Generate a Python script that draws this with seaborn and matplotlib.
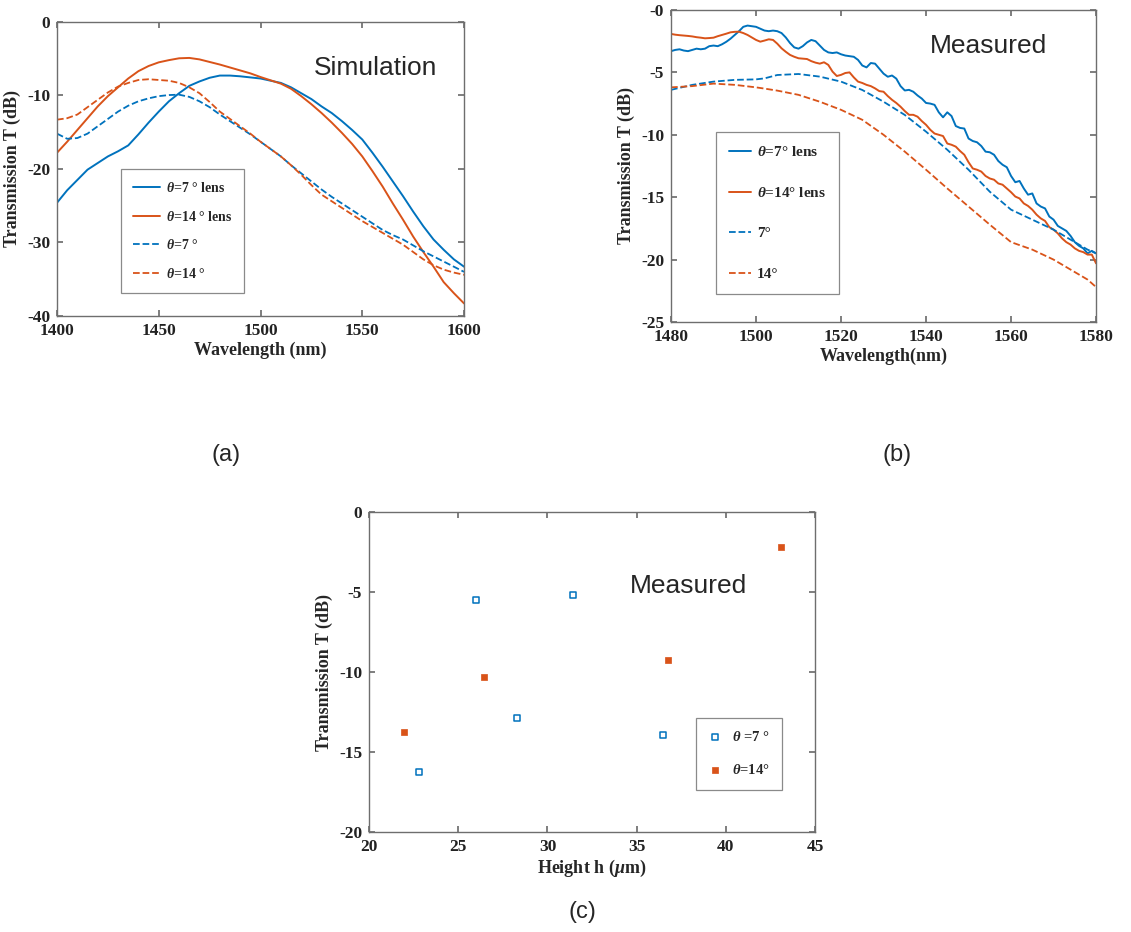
import numpy as np
import pandas as pd
import matplotlib
matplotlib.use("Agg")
import matplotlib.pyplot as plt
import seaborn as sns

# -----------------------------
# DATA
# -----------------------------
# (a) simulation, wavelength in nm, transmission in dB
sim_wl = [1400, 1405, 1410, 1415, 1420, 1425, 1430, 1435, 1440, 1445, 1450,
          1455, 1460, 1465, 1470, 1475, 1480, 1485, 1490, 1495, 1500,
          1505, 1510, 1515, 1520, 1525, 1530, 1535, 1540, 1545, 1550,
          1555, 1560, 1565, 1570, 1575, 1580, 1585, 1590, 1595, 1600]
sim_7_lens = [-24.6, -22.9, -21.5, -20.1, -19.2, -18.3, -17.6, -16.8, -15.3, -13.7, -12.2,
              -10.8, -9.7, -8.7, -8.1, -7.6, -7.3, -7.3, -7.4, -7.55, -7.7,
              -8.0, -8.3, -8.9, -9.7, -10.5, -11.5, -12.4, -13.5, -14.7, -16.0,
              -17.8, -19.7, -21.7, -23.7, -25.8, -27.8, -29.6, -31.0, -32.3, -33.3]
sim_14_lens = [-17.8, -16.3, -14.7, -13.1, -11.5, -10.1, -8.9, -7.7, -6.7, -6.0, -5.5,
               -5.2, -4.95, -4.9, -5.1, -5.45, -5.8, -6.2, -6.6, -7.0, -7.5,
               -7.95, -8.4, -9.1, -10.1, -11.2, -12.4, -13.7, -15.1, -16.6, -18.3,
               -20.3, -22.4, -24.7, -26.9, -29.2, -31.3, -33.3, -35.4, -36.9, -38.3]
sim_7 = [-15.2, -15.9, -15.8, -15.2, -14.2, -13.2, -12.2, -11.4, -10.8, -10.4, -10.1,
         -9.95, -9.9, -10.2, -10.8, -11.6, -12.6, -13.5, -14.4, -15.3, -16.3,
         -17.3, -18.3, -19.5, -20.6, -21.7, -22.8, -23.8, -24.7, -25.6, -26.5,
         -27.4, -28.3, -29.0, -29.6, -30.4, -31.2, -31.9, -32.6, -33.3, -34.0]
sim_14 = [-13.3, -13.1, -12.6, -11.6, -10.6, -9.6, -8.8, -8.3, -7.9, -7.8, -7.9,
          -8.0, -8.3, -8.9, -9.7, -10.9, -12.2, -13.2, -14.2, -15.2, -16.3,
          -17.3, -18.3, -19.5, -20.8, -22.2, -23.5, -24.4, -25.3, -26.2, -27.1,
          -27.9, -28.7, -29.5, -30.3, -31.3, -32.3, -33.1, -33.7, -34.1, -34.4]

# (b) measured spectra
meas_wl = list(range(1480, 1581))
meas_7_lens = [-3.3, -3.2, -3.15, -3.25, -3.3, -3.2, -3.1, -3.15, -3.1, -2.9,
               -2.85, -2.9, -2.75, -2.55, -2.3, -2.0, -1.7, -1.35, -1.25, -1.3,
               -1.35, -1.5, -1.65, -1.7, -1.65, -1.7, -1.85, -2.2, -2.65, -3.0,
               -3.1, -2.9, -2.6, -2.4, -2.5, -2.85, -3.2, -3.4, -3.45, -3.4,
               -3.55, -3.65, -3.7, -3.75, -4.0, -4.45, -4.6, -4.25, -4.3, -4.7,
               -5.1, -5.35, -5.25, -5.5, -6.1, -6.45, -6.4, -6.55, -6.85, -7.1,
               -7.45, -7.5, -7.6, -8.2, -8.6, -8.2, -8.5, -9.3, -9.45, -9.5,
               -10.3, -10.5, -10.6, -10.9, -11.35, -11.4, -11.6, -12.1, -12.4, -12.6,
               -13.3, -13.8, -13.7, -14.3, -14.8, -14.7, -15.5, -15.75, -15.9, -16.55,
               -16.8, -17.3, -17.5, -17.7, -18.1, -18.6, -18.9, -19.1, -19.5, -19.3,
               -19.5]
meas_14_lens = [-1.92, -1.98, -2.02, -2.05, -2.08, -2.12, -2.18, -2.22, -2.27, -2.25,
                -2.22, -2.1, -2.0, -1.9, -1.79, -1.75, -1.74, -1.85, -2.0, -2.2,
                -2.4, -2.54, -2.45, -2.35, -2.4, -2.7, -3.07, -3.35, -3.6, -3.75,
                -3.87, -3.9, -3.93, -4.1, -4.22, -4.3, -4.19, -4.4, -4.94, -5.29,
                -5.2, -5.05, -5.0, -5.4, -5.74, -5.85, -6.0, -6.1, -6.28, -6.5,
                -6.55, -6.9, -7.2, -7.45, -7.75, -8.1, -8.4, -8.4, -8.55, -8.9,
                -9.2, -9.6, -9.9, -10.0, -10.1, -10.7, -10.8, -10.95, -11.3, -11.6,
                -12.2, -12.7, -12.8, -12.95, -13.3, -13.5, -13.6, -13.9, -14.0, -14.3,
                -14.6, -14.95, -15.1, -15.5, -15.7, -16.0, -16.4, -16.7, -16.9, -17.4,
                -17.6, -17.9, -18.3, -18.6, -18.8, -19.1, -19.3, -19.4, -19.6, -19.6,
                -20.3]
meas_wl_dash = [1480, 1485, 1490, 1495, 1500, 1502, 1505, 1510, 1515, 1520, 1525,
                1530, 1535, 1540, 1545, 1550, 1555, 1560, 1565, 1570, 1575, 1578, 1580]
meas_7 = [-6.4, -6.0, -5.74, -5.6, -5.56, -5.48, -5.21, -5.13, -5.34, -5.74, -6.41,
          -7.35, -8.41, -9.75, -11.2, -12.8, -14.56, -16.0, -16.8, -17.6, -18.6, -19.2, -19.5]
meas_14 = [-6.2, -6.1, -5.9, -6.0, -6.2, -6.3, -6.46, -6.8, -7.35, -8.0, -8.8,
           -10.0, -11.35, -12.8, -14.3, -15.75, -17.2, -18.6, -19.2, -20.0, -21.0, -21.6, -22.2]

# (c) transmission vs height
h_7 = [26.0, 31.45, 28.28, 22.82, 36.46]
t_7 = [-5.5, -5.16, -12.87, -16.26, -13.95]
h_14 = [21.94, 26.47, 36.74, 43.1]
t_14 = [-13.72, -10.29, -9.27, -2.18]

# tick labels
ticks_a_y = [0, -10, -20, -30, -40]
ticks_b_y = [0, -5, -10, -15, -20, -25]
labels_b_y = ["-0", "-5", "-10", "-15", "-20", "-25"]
ticks_c_y = [0, -5, -10, -15, -20]

# -----------------------------
# STYLE
# -----------------------------
blue = "#0072BD"
orange = "#D95319"
spine_col = "#6e6e6e"

sns.set_theme(style="ticks")
plt.rcParams["font.family"] = ["Liberation Serif", "DejaVu Sans"]
plt.rcParams["font.weight"] = "bold"
plt.rcParams["axes.labelweight"] = "bold"
plt.rcParams["axes.unicode_minus"] = False
plt.rcParams["mathtext.fontset"] = "custom"
plt.rcParams["mathtext.it"] = "Liberation Serif:italic:bold"
plt.rcParams["mathtext.rm"] = "Liberation Serif:bold"


def style_axes(ax):
    for s in ax.spines.values():
        s.set_color(spine_col)
        s.set_linewidth(1.0)
    ax.tick_params(direction="in", top=True, right=True, length=4,
                   color=spine_col, labelsize=12.5, labelcolor="#222222", pad=5)
    ax.grid(False)


def style_legend(leg):
    fr = leg.get_frame()
    fr.set_edgecolor("#8a8a8a")
    fr.set_linewidth(0.9)
    fr.set_boxstyle("square", pad=0)


fig = plt.figure(figsize=(11.31, 9.32), dpi=100)

# -----------------------------
# (a) SIMULATION
# -----------------------------
ax_a = fig.add_axes([0.0504, 0.661, 0.3599, 0.3155])
sim = pd.DataFrame({"wl": sim_wl, "s7l": sim_7_lens, "s14l": sim_14_lens,
                    "s7": sim_7, "s14": sim_14})
sns.lineplot(data=sim, x="wl", y="s7l", ax=ax_a, color=blue, lw=1.4,
             label=r"$\theta$=7 ° lens")
sns.lineplot(data=sim, x="wl", y="s14l", ax=ax_a, color=orange, lw=1.4,
             label=r"$\theta$=14 ° lens")
sns.lineplot(data=sim, x="wl", y="s7", ax=ax_a, color=blue, lw=1.3,
             linestyle="--", label=r"$\theta$=7 °")
sns.lineplot(data=sim, x="wl", y="s14", ax=ax_a, color=orange, lw=1.3,
             linestyle="--", label=r"$\theta$=14 °")
ax_a.set_xlim(1400, 1600)
ax_a.set_ylim(-40, 0)
ax_a.set_xticks([1400, 1450, 1500, 1550, 1600])
ax_a.set_yticks(ticks_a_y)
ax_a.set_xlabel("Wavelength (nm)", fontsize=13, labelpad=2)
ax_a.set_ylabel("Transmission T (dB)", fontsize=13, labelpad=4)
style_axes(ax_a)
leg = ax_a.legend(loc="upper left", bbox_to_anchor=(0.1565, 0.499), fontsize=10,
                  labelspacing=1.05, handlelength=2.0, handletextpad=0.4,
                  borderpad=0.85, borderaxespad=0, fancybox=False, framealpha=1)
style_legend(leg)
ax_a.text(0.631, 0.82, "Simulation", transform=ax_a.transAxes, fontsize=19,
          family="Liberation Sans", weight="normal", va="baseline")

# -----------------------------
# (b) MEASURED SPECTRA
# -----------------------------
ax_b = fig.add_axes([0.5933, 0.6545, 0.3758, 0.3348])
sns.lineplot(x=meas_wl, y=meas_7_lens, ax=ax_b, color=blue, lw=1.4,
             label=r"$\theta$=7° lens")
sns.lineplot(x=meas_wl, y=meas_14_lens, ax=ax_b, color=orange, lw=1.4,
             label=r"$\theta$=14° lens")
sns.lineplot(x=meas_wl_dash, y=meas_7, ax=ax_b, color=blue, lw=1.3,
             linestyle="--", label="7°")
sns.lineplot(x=meas_wl_dash, y=meas_14, ax=ax_b, color=orange, lw=1.3,
             linestyle="--", label="14°")
ax_b.set_xlim(1480, 1580)
ax_b.set_ylim(-25, 0)
ax_b.set_xticks(range(1480, 1581, 20))
ax_b.set_yticks(ticks_b_y)
ax_b.set_yticklabels(labels_b_y)
ax_b.set_xlabel("Wavelength(nm)", fontsize=13, labelpad=2)
ax_b.set_ylabel("Transmission T (dB)", fontsize=13, labelpad=4)
style_axes(ax_b)
leg = ax_b.legend(loc="upper left", bbox_to_anchor=(0.105, 0.608), fontsize=11,
                  labelspacing=1.75, handlelength=1.45, handletextpad=0.4,
                  borderpad=0.85, borderaxespad=0, fancybox=False, framealpha=1)
style_legend(leg)
ax_b.text(0.609, 0.862, "Measured", transform=ax_b.transAxes, fontsize=19,
          family="Liberation Sans", weight="normal", va="baseline")

# -----------------------------
# (c) TRANSMISSION VS HEIGHT
# -----------------------------
ax_c = fig.add_axes([0.3263, 0.1073, 0.3944, 0.3433])
sns.scatterplot(x=h_7, y=t_7, ax=ax_c, marker="s", s=16, facecolor="white",
                edgecolor=blue, linewidth=1.1, label=r"$\theta$ =7 °")
sns.scatterplot(x=h_14, y=t_14, ax=ax_c, marker="s", s=18, color=orange,
                edgecolor=orange, linewidth=0.5, label=r"$\theta$=14°")
ax_c.set_xlim(20, 45)
ax_c.set_ylim(-20, 0)
ax_c.set_xticks(range(20, 46, 5))
ax_c.set_yticks(ticks_c_y)
ax_c.set_xlabel(r"Height h ($\mu$m)", fontsize=13, labelpad=2)
ax_c.set_ylabel("Transmission T (dB)", fontsize=13, labelpad=4)
style_axes(ax_c)
leg = ax_c.legend(loc="upper left", bbox_to_anchor=(0.7325, 0.357), fontsize=10.5,
                  labelspacing=1.3, handlelength=1.0, handletextpad=0.6,
                  borderpad=0.85, borderaxespad=0, fancybox=False, framealpha=1)
style_legend(leg)
ax_c.text(0.585, 0.747, "Measured", transform=ax_c.transAxes, fontsize=19,
          family="Liberation Sans", weight="normal", va="baseline")

# -----------------------------
# PANEL LETTERS
# -----------------------------
for lbl, x, y in [("(a)", 226, 455), ("(b)", 897, 455), ("(c)", 582, 912)]:
    fig.text(x / 1131, 1 - y / 932, lbl, fontsize=17, family="Liberation Sans",
             weight="normal", ha="center", va="center")

plt.savefig("out.png", dpi=100)
